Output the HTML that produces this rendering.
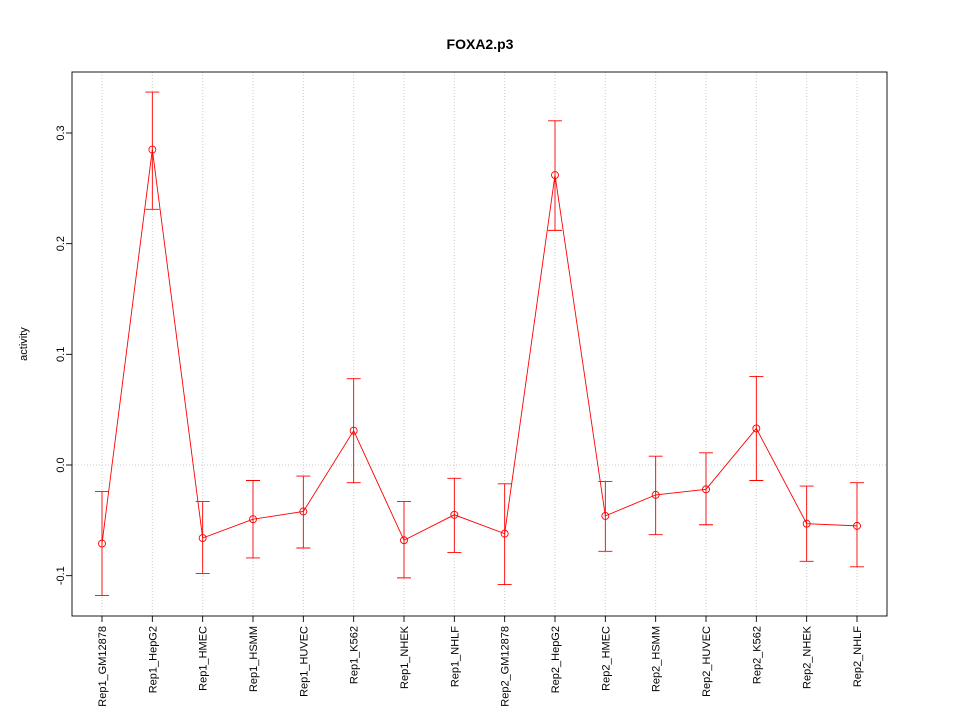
<!DOCTYPE html>
<html><head><meta charset="utf-8"><style>body{margin:0;background:#fff}svg{display:block;font-family:"Liberation Sans",sans-serif}</style></head>
<body>
<svg id="c" width="960" height="720">
<rect width="960" height="720" fill="#fff"/>
<text x="480" y="49" text-anchor="middle" font-size="14" font-weight="bold">FOXA2.p3</text>
<text transform="translate(27,344) rotate(-90)" text-anchor="middle" font-size="11">activity</text>
<g id="g"></g>
</svg>
<script>
const categories=["Rep1_GM12878","Rep1_HepG2","Rep1_HMEC","Rep1_HSMM","Rep1_HUVEC","Rep1_K562","Rep1_NHEK","Rep1_NHLF","Rep2_GM12878","Rep2_HepG2","Rep2_HMEC","Rep2_HSMM","Rep2_HUVEC","Rep2_K562","Rep2_NHEK","Rep2_NHLF"];
const values=[-0.071,0.285,-0.066,-0.049,-0.042,0.031,-0.068,-0.045,-0.062,0.262,-0.046,-0.027,-0.022,0.033,-0.053,-0.055];
const upper=[-0.024,0.337,-0.033,-0.014,-0.010,0.078,-0.033,-0.012,-0.017,0.311,-0.015,0.008,0.011,0.080,-0.019,-0.016];
const lower=[-0.118,0.231,-0.098,-0.084,-0.075,-0.016,-0.102,-0.079,-0.108,0.212,-0.078,-0.063,-0.054,-0.014,-0.087,-0.092];
const yTicks=[-0.1,0.0,0.1,0.2,0.3];
const yTickLabels=["-0.1","0.0","0.1","0.2","0.3"];
const NS="http://www.w3.org/2000/svg",g=document.getElementById('g');
const L=72,R=887,T=72,B=616;
const x=i=>102+i*(857-102)/(categories.length-1);
const y=v=>465-v*1106.7;
function mk(t,a,txt){const e=document.createElementNS(NS,t);for(const k in a)e.setAttribute(k,a[k]);if(txt!==undefined)e.textContent=txt;g.appendChild(e);return e;}
categories.forEach((c,i)=>{
 const l=mk('line',{x1:x(i),x2:x(i),y1:T,y2:B,stroke:'#ccc','stroke-dasharray':'1,2'});
 
 
});
const hz=mk('line',{x1:L,x2:R,y1:y(0),y2:y(0),stroke:'#ccc','stroke-dasharray':'1,2'});


const fr=mk('rect',{x:L,y:T,width:R-L,height:B-T,fill:'none',stroke:'#000','stroke-width':0.9});


yTicks.forEach((v,i)=>{
 const t=mk('line',{x1:L-6,x2:L,y1:y(v),y2:y(v),stroke:'#000','stroke-width':0.9});
 
 
 const tx=mk('text',{transform:`translate(${L-8},${y(v)}) rotate(-90)`,'text-anchor':'middle','font-size':11},yTickLabels[i]);
 
 
});
categories.forEach((c,i)=>{
 const t=mk('line',{x1:x(i),x2:x(i),y1:B,y2:B+6,stroke:'#000','stroke-width':0.9});
 
 
 const tx=mk('text',{transform:`translate(${x(i)+4},${B+10}) rotate(-90)`,'text-anchor':'end','font-size':11},c);
 
 
});
const pts=values.map((v,i)=>x(i)+','+y(v)).join(' ');
const pl=mk('polyline',{points:pts,fill:'none',stroke:'#f00','stroke-width':0.9});


values.forEach((v,i)=>{
 const eb=mk('path',{d:`M${x(i)},${y(upper[i])}V${y(lower[i])}M${x(i)-7},${y(upper[i])}h14M${x(i)-7},${y(lower[i])}h14`,stroke:'#f00',fill:'none','stroke-width':0.9});
 
 
 const p=mk('circle',{cx:x(i),cy:y(v),r:3.5,fill:'none',stroke:'#f00','stroke-width':0.9});
 
 
});
</script>
</body></html>
